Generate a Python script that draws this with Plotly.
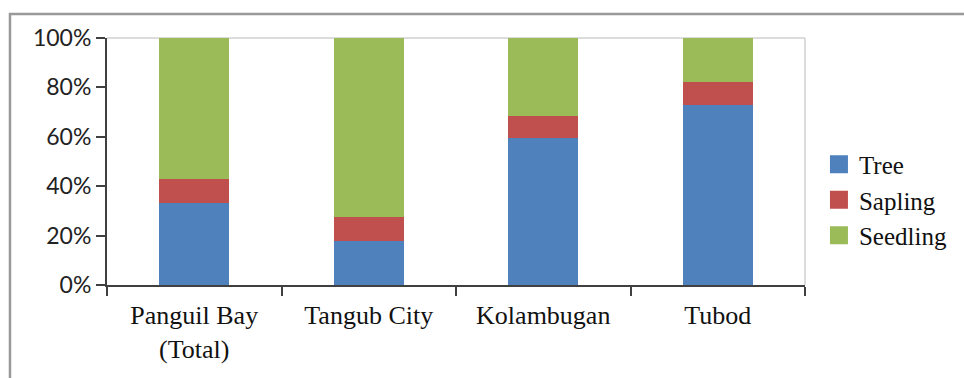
import plotly.graph_objects as go

categories = ["Panguil Bay<br>(Total)", "Tangub City", "Kolambugan", "Tubod"]
tree = [0.333, 0.178, 0.594, 0.729]
sapling = [0.095, 0.099, 0.090, 0.094]
seedling = [1 - t - s for t, s in zip(tree, sapling)]
series_names = ["Tree", "Sapling", "Seedling"]
series_colors = ["#4F81BD", "#C0504D", "#9BBB59"]
y_ticks = [0, 0.2, 0.4, 0.6, 0.8, 1.0]

fig = go.Figure()
for name, vals, col in zip(series_names, [tree, sapling, seedling], series_colors):
    fig.add_trace(go.Bar(x=categories, y=vals, name=name, marker=dict(color=col, line=dict(width=0)),
                         showlegend=False))
for name, col in zip(series_names, series_colors):
    fig.add_trace(go.Scatter(x=[None], y=[None], mode="markers", name=name,
                             marker=dict(symbol="square", size=16, color=col, line=dict(color=col, width=2))))

serif = "Liberation Serif, Times New Roman, serif"

fig.update_layout(
    width=964, height=378,
    margin=dict(l=107, r=157, t=38, b=93),
    barmode="stack", bargap=0.6,
    plot_bgcolor="white", paper_bgcolor="white",
    showlegend=True,
    legend=dict(x=1.02, y=0.344, xanchor="left", yanchor="middle", traceorder="normal",
                font=dict(family=serif, size=25, color="#111"),
                itemsizing="trace", tracegroupgap=0, bgcolor="rgba(0,0,0,0)"),
    xaxis=dict(type="category", showline=True, linecolor="#404040", linewidth=2,
               ticks="outside", tickson="boundaries", ticklen=9, tickwidth=2, tickcolor="#404040",
               ticklabelstandoff=6,
               tickfont=dict(family=serif, size=26, color="#111"), showgrid=False, zeroline=False),
    yaxis=dict(range=[0, 1], tickvals=y_ticks, tickformat=".0%", showline=True, linecolor="#404040",
               linewidth=2, ticks="outside", ticklen=9, tickwidth=2, tickcolor="#404040",
               tickfont=dict(family="Lato, Liberation Sans, sans-serif", size=23, color="#222"),
               showgrid=False, zeroline=False),
    shapes=[
        dict(type="line", xref="paper", yref="paper", x0=0, x1=1, y0=1, y1=1,
             line=dict(color="#d0d0d0", width=1.5), layer="below"),
        dict(type="line", xref="paper", yref="paper", x0=1, x1=1, y0=0, y1=1,
             line=dict(color="#d0d0d0", width=1.5), layer="below"),
        dict(type="path", xref="paper", yref="paper",
             path="M -0.139,-0.4 L -0.139,1.097 L 1.3,1.097",
             line=dict(color="#999999", width=2.5)),
    ],
)

fig.write_html("out.html")
